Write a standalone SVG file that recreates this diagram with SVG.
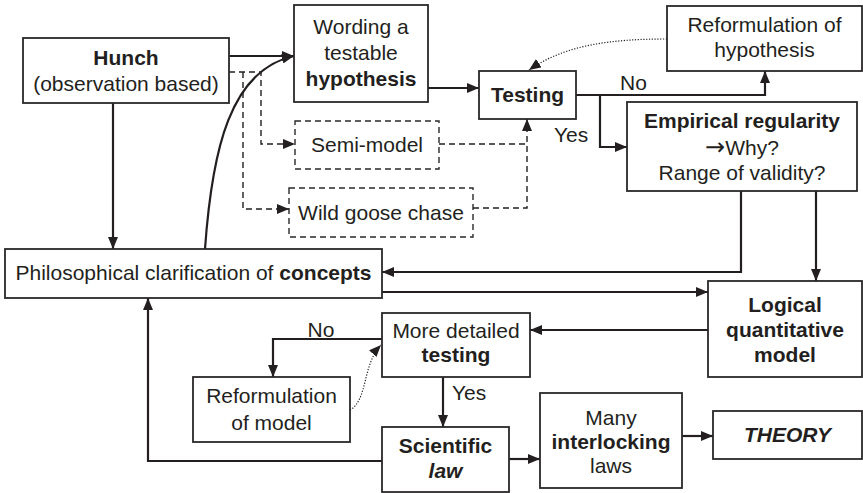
<svg xmlns="http://www.w3.org/2000/svg" width="863" height="493" viewBox="0 0 863 493">
<style>
.box{fill:#fff;stroke:#2a2728;stroke-width:1.8}
.dbox{fill:#fff;stroke:#2a2728;stroke-width:1.4;stroke-dasharray:6 4}
text{font-family:"Liberation Sans",Arial,sans-serif;font-size:21px;fill:#231f20;text-anchor:middle}
.b{font-weight:bold}
.bi{font-weight:bold;font-style:italic}
.st{text-anchor:start}
.arr{font-family:"DejaVu Sans",sans-serif;font-size:24px}
.c{fill:none;stroke:#231f20;stroke-width:2.2}
.dc{fill:none;stroke:#231f20;stroke-width:1.4;stroke-dasharray:6 4}
.dot{fill:none;stroke:#231f20;stroke-width:1.2;stroke-dasharray:1.2 1.6}
</style>
<defs>
<marker id="ah" markerUnits="userSpaceOnUse" markerWidth="12" markerHeight="10" refX="12" refY="5" orient="auto">
<path d="M0,0 L12,5 L0,10 z" fill="#231f20"/>
</marker>
</defs>
<rect width="863" height="493" fill="#fff"/>
<g id="connectors">
<path class="c" d="M229,56 H294" marker-end="url(#ah)"/>
<path class="c" d="M113,103 V249" marker-end="url(#ah)"/>
<path class="c" d="M205,249 C212,150 230,70 294,56" marker-end="url(#ah)"/>
<path class="dc" d="M229,72 H261 V144 H295" marker-end="url(#ah)"/>
<path class="dc" d="M243,72 V209 H289" marker-end="url(#ah)"/>
<path class="dc" d="M439,144 H527"/>
<path class="dc" d="M473,208 H527 V119" marker-end="url(#ah)"/>
<path class="c" d="M428,88 H479" marker-end="url(#ah)"/>
<path class="dot" d="M667,39 C610,39 565,45 529,70" marker-end="url(#ah)"/>
<path class="c" d="M576,95 H765 V71" marker-end="url(#ah)"/>
<path class="c" d="M600,95 V147 H627" marker-end="url(#ah)"/>
<path class="c" d="M741,191 V272 H382" marker-end="url(#ah)"/>
<path class="c" d="M816,191 V281" marker-end="url(#ah)"/>
<path class="c" d="M382,292 H708" marker-end="url(#ah)"/>
<path class="c" d="M708,330 H530" marker-end="url(#ah)"/>
<path class="c" d="M382,339 H273 V377" marker-end="url(#ah)"/>
<path class="dot" d="M350,410 C368,400 362,365 381,345" marker-end="url(#ah)"/>
<path class="c" d="M443,377 V427" marker-end="url(#ah)"/>
<path class="c" d="M382,461 H148 V298" marker-end="url(#ah)"/>
<path class="c" d="M509,459 H540" marker-end="url(#ah)"/>
<path class="c" d="M682,436 H713" marker-end="url(#ah)"/>
<text class="st" x="620" y="90">No</text>
<text class="st" x="554" y="142">Yes</text>
<text x="321" y="337">No</text>
<text class="st" x="452" y="400">Yes</text>
</g>
<g id="hunch">
<rect class="box" x="23" y="38" width="206" height="65"/>
<text class="b" x="126" y="65">Hunch</text>
<text x="126" y="91">(observation based)</text>
</g>
<g id="wording">
<rect class="box" x="294" y="5" width="134" height="97"/>
<text x="361" y="34">Wording a</text>
<text x="361" y="60">testable</text>
<text class="b" x="361" y="86">hypothesis</text>
</g>
<g id="testing">
<rect class="box" x="479" y="71" width="97" height="48"/>
<text class="b" x="527.5" y="102">Testing</text>
</g>
<g id="reformulation-hypothesis">
<rect class="box" x="667" y="6" width="195" height="65"/>
<text x="764.5" y="32">Reformulation of</text>
<text x="764.5" y="57">hypothesis</text>
</g>
<g id="semi-model">
<rect class="dbox" x="295" y="121" width="144" height="48"/>
<text x="367" y="152">Semi-model</text>
</g>
<g id="wild-goose">
<rect class="dbox" x="289" y="188" width="184" height="49"/>
<text x="381" y="220">Wild goose chase</text>
</g>
<g id="empirical">
<rect class="box" x="627" y="102" width="230" height="89"/>
<text class="b" x="742" y="128">Empirical regularity</text>
<text x="742" y="155"><tspan class="arr">→</tspan>Why?</text>
<text x="742" y="180">Range of validity?</text>
</g>
<g id="philosophical">
<rect class="box" x="5" y="249" width="377" height="49"/>
<text x="193.5" y="280">Philosophical clarification of <tspan class="b">concepts</tspan></text>
</g>
<g id="logical">
<rect class="box" x="708" y="281" width="154" height="96"/>
<text class="b" x="785" y="312">Logical</text>
<text class="b" x="785" y="337">quantitative</text>
<text class="b" x="785" y="362">model</text>
</g>
<g id="more-detailed">
<rect class="box" x="382" y="313" width="148" height="64"/>
<text x="456" y="338">More detailed</text>
<text class="b" x="456" y="362">testing</text>
</g>
<g id="reformulation-model">
<rect class="box" x="193" y="377" width="157" height="65"/>
<text x="271.5" y="403">Reformulation</text>
<text x="271.5" y="430">of model</text>
</g>
<g id="scientific">
<rect class="box" x="382" y="427" width="127" height="65"/>
<text class="b" x="445.5" y="453">Scientific</text>
<text class="bi" x="445.5" y="478">law</text>
</g>
<g id="many">
<rect class="box" x="540" y="393" width="142" height="95"/>
<text x="611" y="425">Many</text>
<text class="b" x="611" y="449">interlocking</text>
<text x="611" y="473">laws</text>
</g>
<g id="theory">
<rect class="box" x="713" y="411" width="149" height="48"/>
<text class="bi" x="787.5" y="442">THEORY</text>
</g>
</svg>
